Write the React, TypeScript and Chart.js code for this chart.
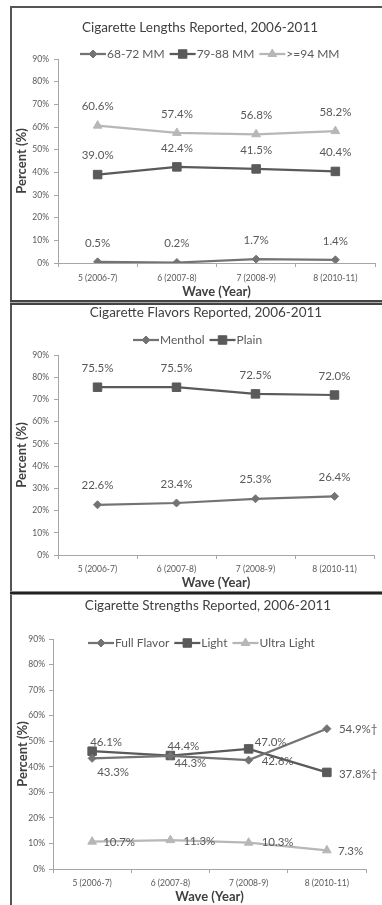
import { useEffect, useRef } from "react";
import { Chart, registerables } from "chart.js";
import { drawPoint } from "chart.js/helpers";

Chart.register(...registerables);

// ---- data ----
const waves = ["5 (2006-7)", "6 (2007-8)", "7 (2008-9)", "8 (2010-11)"];
const yTickLabels = ["0%", "10%", "20%", "30%", "40%", "50%", "60%", "70%", "80%", "90%"];

const lengthTitle = "Cigarette Lengths Reported, 2006-2011";
const lengthNames = ["68-72 MM", "79-88 MM", ">=94 MM"];
const len6872 = [0.5, 0.2, 1.7, 1.4];
const len7988 = [39.0, 42.4, 41.5, 40.4];
const len94 = [60.6, 57.4, 56.8, 58.2];

const flavorTitle = "Cigarette Flavors Reported, 2006-2011";
const flavorNames = ["Menthol", "Plain"];
const menthol = [22.6, 23.4, 25.3, 26.4];
const plain = [75.5, 75.5, 72.5, 72.0];

const strengthTitle = "Cigarette Strengths Reported, 2006-2011";
const strengthNames = ["Full Flavor", "Light", "Ultra Light"];
const fullFlavor = [43.3, 44.3, 42.6, 54.9];
const light = [46.1, 44.4, 47.0, 37.8];
const ultraLight = [10.7, 11.3, 10.3, 7.3];
const fullFlavorMarks = ["", "", "", "\u2020"];
const lightMarks = ["", "", "", "\u2020"];

// ---- styling ----
const FONT = "Lato, 'Open Sans', sans-serif";
const TEXT = "#595959";
const DARK = "#404040";
const AXIS = "#a6a6a6";
const C_MID = "#737373";
const C_DARK = "#5a5a5a";
const C_LIGHT = "#b7b7b7";

type LabelPos = { dx: number; dy: number; align: CanvasTextAlign };
const above: LabelPos = { dx: 0, dy: -19, align: "center" };

function series(
  label: string,
  data: number[],
  color: string,
  pointStyle: string,
  radius: number,
  labelPos: LabelPos[],
  marks?: string[]
) {
  return {
    label,
    data,
    borderColor: color,
    backgroundColor: color,
    pointBackgroundColor: color,
    pointBorderColor: color,
    pointBorderWidth: 1,
    borderWidth: 2.25,
    pointStyle,
    pointRadius: radius,
    pointHoverRadius: radius,
    tension: 0,
    labelPos,
    marks,
  } as any;
}

const panelDecor = {
  id: "panelDecor",
  afterDatasetsDraw(chart: any, _args: any, opts: any) {
    const ctx: CanvasRenderingContext2D = chart.ctx;
    ctx.save();

    // title
    ctx.font = `13.5px ${FONT}`;
    ctx.fillStyle = DARK;
    ctx.textAlign = "center";
    ctx.textBaseline = "middle";
    ctx.fillText(opts.title, opts.titleX, opts.titleY);

    // legend: line with marker, then name
    ctx.font = `12px ${FONT}`;
    ctx.textAlign = "left";
    let x = opts.legendX;
    const y = opts.legendY;
    const lineLen = 26;
    chart.data.datasets.forEach((ds: any) => {
      ctx.strokeStyle = ds.borderColor;
      ctx.lineWidth = ds.borderWidth;
      ctx.beginPath();
      ctx.moveTo(x, y);
      ctx.lineTo(x + lineLen, y);
      ctx.stroke();
      ctx.fillStyle = ds.pointBackgroundColor;
      ctx.strokeStyle = ds.pointBorderColor;
      ctx.lineWidth = 1;
      drawPoint(ctx, { pointStyle: ds.pointStyle, radius: ds.pointRadius, rotation: 0, borderWidth: 1 } as any, x + lineLen / 2, y);
      ctx.fillStyle = TEXT;
      ctx.fillText(ds.label, x + lineLen + 1, y);
      x += lineLen + 1 + ctx.measureText(ds.label).width + opts.legendGap;
    });

    // value labels
    ctx.font = `11.5px ${FONT}`;
    ctx.fillStyle = TEXT;
    chart.data.datasets.forEach((ds: any, i: number) => {
      const meta = chart.getDatasetMeta(i);
      meta.data.forEach((pt: any, j: number) => {
        const pos: LabelPos = ds.labelPos[j];
        const text = ds.data[j].toFixed(1) + "%" + (ds.marks ? ds.marks[j] : "");
        ctx.textAlign = pos.align;
        ctx.fillText(text, pt.x + pos.dx, pt.y + pos.dy);
      });
    });
    ctx.restore();
  },
};

type PanelSpec = {
  datasets: any[];
  decor: any;
  padding: { top: number; right: number };
  yWidth: number;
  yTickPad: number;
  yTitlePad: number;
  xHeight: number;
  xTickPad: number;
  xTitlePad: number;
};

function makeConfig(p: PanelSpec): any {
  return {
    type: "line",
    data: { labels: waves, datasets: p.datasets },
    plugins: [panelDecor],
    options: {
      responsive: false,
      animation: false,
      events: [],
      layout: { padding: { top: p.padding.top, right: p.padding.right, left: 0, bottom: 0 } },
      plugins: {
        legend: { display: false },
        title: { display: false },
        tooltip: { enabled: false },
        panelDecor: p.decor,
      },
      scales: {
        x: {
          type: "category",
          offset: true,
          afterFit: (s: any) => {
            s.height = p.xHeight;
          },
          grid: { offset: true, drawOnChartArea: false, drawTicks: true, tickLength: 4, color: AXIS },
          border: { color: AXIS, width: 1 },
          ticks: { color: TEXT, font: { family: FONT, size: 8.5 }, padding: p.xTickPad, maxRotation: 0, autoSkip: false },
          title: {
            display: true,
            text: "Wave (Year)",
            color: DARK,
            font: { family: FONT, size: 13, weight: "bold" },
            padding: { top: 0, bottom: p.xTitlePad },
          },
        },
        y: {
          min: 0,
          max: 90,
          afterFit: (s: any) => {
            s.width = p.yWidth;
          },
          grid: { drawOnChartArea: false, drawTicks: true, tickLength: 4, color: AXIS },
          border: { color: AXIS, width: 1 },
          ticks: {
            stepSize: 10,
            color: TEXT,
            font: { family: FONT, size: 8.5 },
            padding: p.yTickPad,
            callback: (_v: any, i: number) => yTickLabels[i],
          },
          title: {
            display: true,
            text: "Percent (%)",
            color: DARK,
            font: { family: FONT, size: 13, weight: "bold" },
            padding: { top: p.yTitlePad, bottom: 0 },
          },
        },
      },
    },
  };
}

const lengthPanel: PanelSpec = {
  datasets: [
    series(lengthNames[0], len6872, C_MID, "rectRot", 4, [above, above, above, above]),
    series(lengthNames[1], len7988, C_DARK, "rect", 6, [above, above, above, above]),
    series(lengthNames[2], len94, C_LIGHT, "triangle", 5, [above, above, above, above]),
  ],
  decor: { title: lengthTitle, titleX: 187, titleY: 20, legendX: 67, legendY: 46, legendGap: 5 },
  padding: { top: 51, right: 4 },
  yWidth: 45,
  yTickPad: 5,
  yTitlePad: 1,
  xHeight: 37,
  xTickPad: 6,
  xTitlePad: 0,
};

const flavorPanel: PanelSpec = {
  datasets: [
    series(flavorNames[0], menthol, C_MID, "rectRot", 4, [above, above, above, above]),
    series(flavorNames[1], plain, C_DARK, "rect", 6, [above, above, above, above]),
  ],
  decor: { title: flavorTitle, titleX: 193, titleY: 7, legendX: 120, legendY: 34, legendGap: 5 },
  padding: { top: 49, right: 8 },
  yWidth: 45,
  yTickPad: 5,
  yTitlePad: 1,
  xHeight: 36,
  xTickPad: 5,
  xTitlePad: 0,
};

const L = (dx: number, dy: number): LabelPos => ({ dx, dy, align: "left" });

const strengthPanel: PanelSpec = {
  datasets: [
    series(strengthNames[0], fullFlavor, C_MID, "rectRot", 4, [L(5, 14), L(4, 8), L(13, 1), L(12, 1)], fullFlavorMarks),
    series(strengthNames[1], light, C_DARK, "rect", 6, [L(-2, -9), L(-3, -9), L(6, -7), L(12, 2)], lightMarks),
    series(strengthNames[2], ultraLight, C_LIGHT, "triangle", 5, [L(11, 1), L(13, 1), L(13, 0), L(11, 1)]),
  ],
  decor: { title: strengthTitle, titleX: 195, titleY: 11, legendX: 75, legendY: 48, legendGap: 5 },
  padding: { top: 44, right: 16 },
  yWidth: 40,
  yTickPad: 4,
  yTitlePad: 2,
  xHeight: 36,
  xTickPad: 5,
  xTitlePad: 0,
};

const panels = [
  { spec: lengthPanel, top: 8, height: 292 },
  { spec: flavorPanel, top: 306, height: 285 },
  { spec: strengthPanel, top: 595, height: 310 },
];

export default function App() {
  const refs = [useRef<HTMLCanvasElement>(null), useRef<HTMLCanvasElement>(null), useRef<HTMLCanvasElement>(null)];

  useEffect(() => {
    const charts = panels.map((p, i) => new Chart(refs[i].current as HTMLCanvasElement, makeConfig(p.spec)));
    return () => charts.forEach((c) => c.destroy());
  }, []);

  return (
    <div style={{ position: "fixed", left: 0, top: 0, width: 382, height: 905, background: "#fff", overflow: "hidden" }}>
      {panels.map((p, i) => (
        <canvas
          key={i}
          ref={refs[i]}
          width={369}
          height={p.height}
          style={{ position: "absolute", left: 13, top: p.top, width: 369, height: p.height }}
        />
      ))}
      {/* frame */}
      <div style={{ position: "absolute", left: 10, top: 6, width: 2, height: 899, background: "#555" }} />
      <div style={{ position: "absolute", left: 10, top: 6, width: 372, height: 2, background: "#555" }} />
      <div
        style={{
          position: "absolute",
          left: 10,
          top: 300,
          width: 372,
          height: 1,
          background: "#aaa",
          borderTop: "2px solid #444",
          borderBottom: "2px solid #444",
        }}
      />
      <div
        style={{
          position: "absolute",
          left: 10,
          top: 591,
          width: 372,
          height: 2,
          background: "#222",
          borderTop: "1px solid #888",
          borderBottom: "1px solid #888",
        }}
      />
    </div>
  );
}
